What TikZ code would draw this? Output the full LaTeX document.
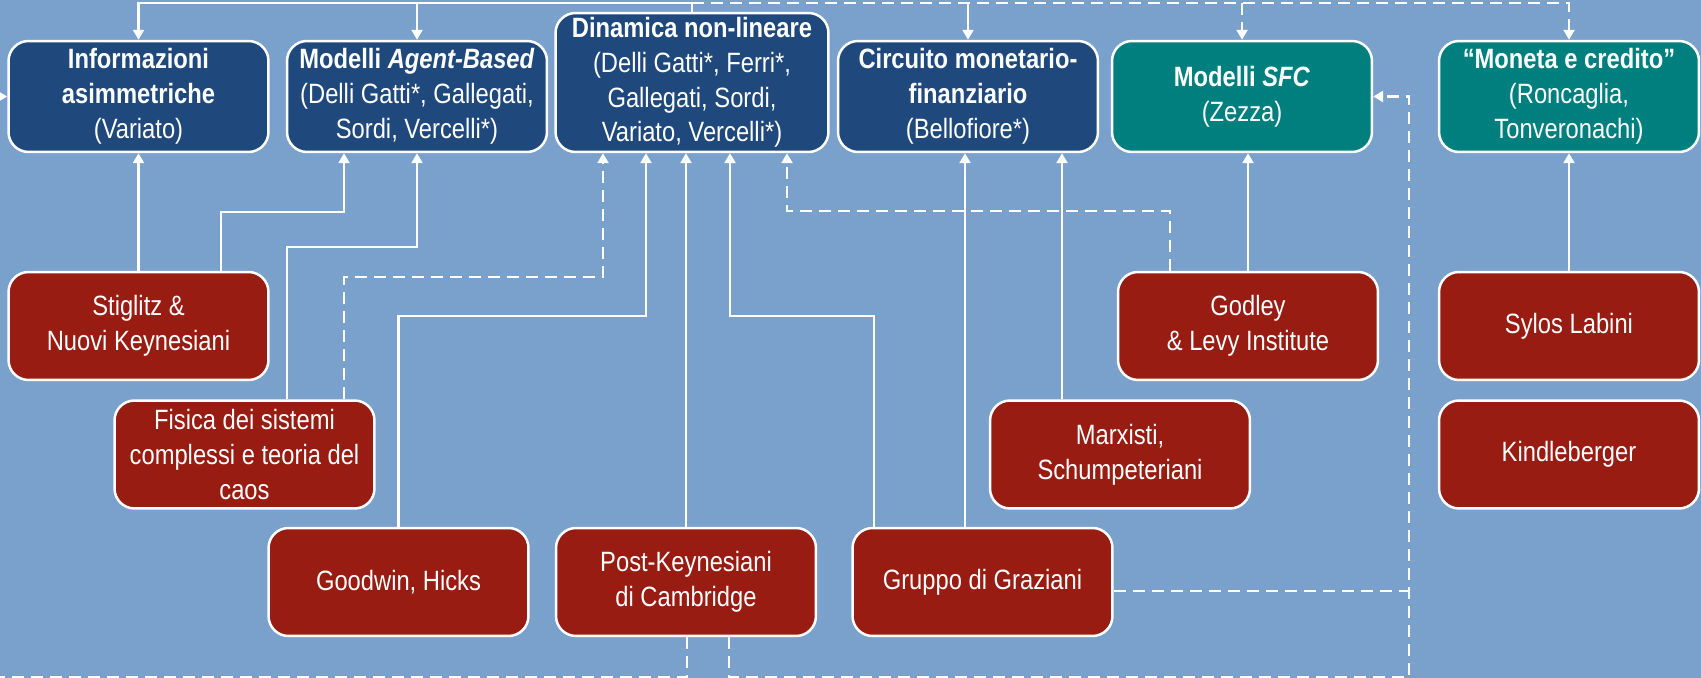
\documentclass[tikz,border=0pt]{standalone}
\usepackage{fontspec}
\setmainfont[FakeStretch=0.85]{Liberation Sans}
\usetikzlibrary{arrows.meta}

\begin{document}
\begin{tikzpicture}[x=0.02cm, y=-0.02cm,
    wire/.style={draw=white, line width=0.05cm},
    wirearr/.style={wire, -{Triangle[length=0.2cm,width=0.22cm]}},
    wiredash/.style={wire, dash pattern=on 0.24cm off 0.14cm},
    dasharr/.style={wiredash, -{Triangle[length=0.2cm,width=0.22cm]}},
    schoolbox/.style={rectangle, rounded corners=0.4cm, draw=white, line width=0.05cm,
      text=white, align=center, inner sep=0pt, minimum width=5.2cm, minimum height=2.16cm,
      font=\fontsize{15.9}{19.8}\selectfont},
    bluebox/.style={schoolbox, fill=r31g73b125, minimum height=2.22cm},
    tealbox/.style={schoolbox, fill=r0g127b127, minimum height=2.22cm},
    redbox/.style={schoolbox, fill=r152g28b17}]

    % Changing colors
    \definecolor{r122g160b204}{RGB}{122,160,204}%
    \definecolor{r31g73b125}{RGB}{31,73,125}%
    \definecolor{r0g127b127}{RGB}{0,127,127}%
    \definecolor{r152g28b17}{RGB}{152,28,17}%

    % Background
    \useasboundingbox (0,0) rectangle (1701,678);
    \fill[r122g160b204] (0,0) rectangle (1701,678);
    \clip (0,0) rectangle (1701,678);

    % Top row: schools
    \node[bluebox] (info) at (138.5,96.5) {\textbf{Informazioni}\\\textbf{asimmetriche}\\(Variato)};
    \node[bluebox] (agent) at (417,96.5) {\textbf{Modelli \textit{Agent-Based}}\\(Delli Gatti*, Gallegati,\\Sordi, Vercelli*)};
    \node[bluebox, minimum width=5.46cm, minimum height=2.78cm] (dyn) at (692,82.5) {\textbf{Dinamica non-lineare}\\(Delli Gatti*, Ferri*,\\Gallegati, Sordi,\\Variato, Vercelli*)};
    \node[bluebox] (circ) at (968,96.5) {\textbf{Circuito monetario-}\\\textbf{finanziario}\\(Bellofiore*)};
    \node[tealbox] (sfc) at (1242,96.5) {\textbf{Modelli \textit{SFC}}\\(Zezza)};
    \node[tealbox] (mon) at (1569,96.5) {\textbf{“Moneta e credito”}\\(Roncaglia,\\Tonveronachi)};

    % Lower rows: traditions
    \node[redbox] (stig) at (138.5,326) {Stiglitz \&\\Nuovi Keynesiani};
    \node[redbox] (fis) at (244.5,454.5) {Fisica dei sistemi\\complessi e teoria del\\caos};
    \node[redbox] (good) at (398.5,582) {Goodwin, Hicks};
    \node[redbox] (pk) at (686,582) {Post-Keynesiani\\di Cambridge};
    \node[redbox] (graz) at (982.5,582) {Gruppo di Graziani};
    \node[redbox] (marx) at (1120,454.5) {Marxisti,\\Schumpeteriani};
    \node[redbox] (god) at (1248,326) {Godley\\\& Levy Institute};
    \node[redbox] (syl) at (1569,326) {Sylos Labini};
    \node[redbox] (kind) at (1569,454.5) {Kindleberger};

    % Bus on top, out of Dinamica non-lineare
    \coordinate (bus) at (692,3);
    \draw[wirearr] (dyn.north) -- (bus) -| (info.north);
    \draw[wirearr] (agent.north |- bus) -- (agent.north);
    \draw[wirearr] (circ.north |- bus) -- (circ.north);
    \draw[dasharr] (bus) -| (mon.north);
    \draw[dasharr] (sfc.north |- bus) -- (sfc.north);

    % Links into Modelli Agent-Based and Informazioni asimmetriche
    \draw[wirearr] (stig.north) -- (info.south);
    \draw[wirearr] (stig.north -| 221,0) -- (221,212) -| (agent.south -| 344,0);
    \draw[wirearr] (fis.north -| 287,0) -- (287,247) -| (agent.south);

    % Links into Dinamica non-lineare
    \draw[dasharr] (fis.north -| 344,0) -- (344,277) -| (dyn.south -| 603,0);
    \draw[wirearr] (good.north) -- (good.north |- 0,316) -| (dyn.south -| 646,0);
    \draw[wirearr] (pk.north) -- (dyn.south -| pk.north);
    \draw[wirearr] (graz.north -| 874,0) -- (874,316) -| (dyn.south -| 730,0);
    \draw[dasharr] (god.north -| 1170,0) -- (1170,211) -| (dyn.south -| 787,0);

    % Links into Circuito, SFC and Moneta e credito
    \draw[wirearr] (graz.north -| 965,0) -- (circ.south -| 965,0);
    \draw[wirearr] (marx.north -| 1062,0) -- (circ.south -| 1062,0);
    \draw[wirearr] (god.north) -- (sfc.south -| god.north);
    \draw[wirearr] (syl.north) -- (mon.south);

    % Dashed loops along the bottom edge
    \coordinate (joinG) at (1409,591);
    \draw[dasharr] (pk.south -| 687,0) -- (687,677) -- (-20,677) |- (info.west);
    \draw[dasharr] (pk.south -| 729,0) -- (729,677) -| (sfc.east -| joinG) -- (sfc.east);
    \draw[wiredash] (graz.east |- joinG) -- (joinG);
\end{tikzpicture}
\end{document}
